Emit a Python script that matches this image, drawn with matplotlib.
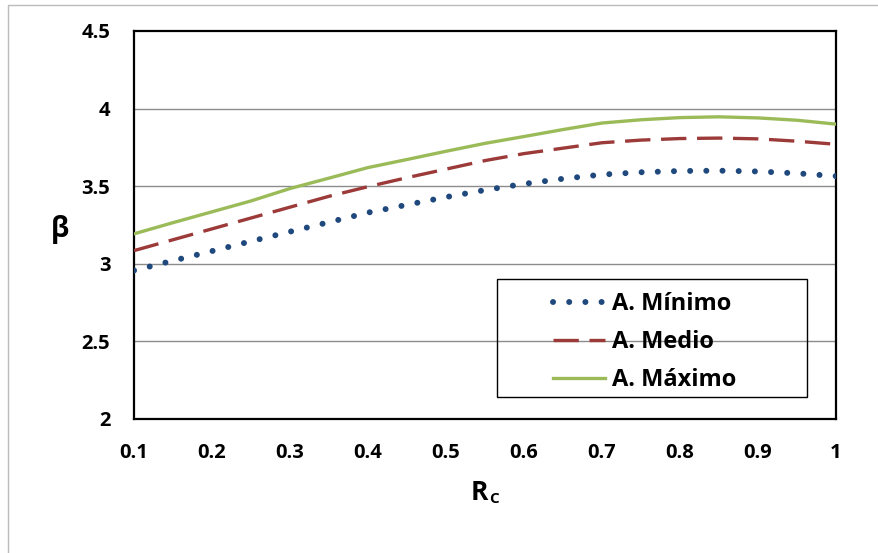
import matplotlib
matplotlib.use("Agg")
import matplotlib.pyplot as plt
from matplotlib.patches import Rectangle

plt.rcParams['font.family'] = ['Open Sans', 'DejaVu Sans']
plt.rcParams['font.weight'] = 'bold'

# Rc values and beta for the three cases
rc = [0.10, 0.15, 0.20, 0.25, 0.30, 0.35, 0.40, 0.45, 0.50, 0.55,
      0.60, 0.65, 0.70, 0.75, 0.80, 0.85, 0.90, 0.95, 1.00]
beta_min = [2.957, 3.020, 3.082, 3.145, 3.207, 3.268, 3.330, 3.380, 3.430, 3.475,
            3.515, 3.548, 3.575, 3.590, 3.598, 3.600, 3.595, 3.583, 3.565]
beta_med = [3.085, 3.155, 3.225, 3.295, 3.365, 3.435, 3.497, 3.555, 3.610, 3.665,
            3.710, 3.745, 3.780, 3.797, 3.807, 3.810, 3.805, 3.790, 3.770]
beta_max = [3.193, 3.265, 3.335, 3.405, 3.485, 3.552, 3.620, 3.672, 3.725, 3.776,
            3.820, 3.865, 3.907, 3.928, 3.942, 3.947, 3.940, 3.925, 3.900]
labels = ["A. Mínimo", "A. Medio", "A. Máximo"]

xticks = [0.1, 0.2, 0.3, 0.4, 0.5, 0.6, 0.7, 0.8, 0.9, 1.0]
xticklabels = ["0.1", "0.2", "0.3", "0.4", "0.5", "0.6", "0.7", "0.8", "0.9", "1"]
yticks = [2, 2.5, 3, 3.5, 4, 4.5]
yticklabels = ["2", "2.5", "3", "3.5", "4", "4.5"]

W, H = 879, 553
fig = plt.figure(figsize=(W / 100, H / 100), dpi=100)
ax = fig.add_axes([134 / W, 1 - 419 / H, (836 - 134) / W, (419 - 31) / H])

# outer chart frame (only left/top edges visible)
fig.patches.append(Rectangle((8 / W, -0.1), 1.2, 1.1 - 5 / H, transform=fig.transFigure,
                             fill=False, edgecolor='#BBBBBB', linewidth=1.0))

ax.plot(rc, beta_min, color='#1F497D', linewidth=4.3, linestyle=(0, (0.01, 2.7)),
        dash_capstyle='round', label=labels[0], zorder=3)
ax.plot(rc, beta_med, color='#9B3A38', linewidth=2.4, linestyle=(0, (7.6, 3.2)),
        dash_capstyle='butt', label=labels[1], zorder=3)
ax.plot(rc, beta_max, color='#9BBB59', linewidth=2.4, label=labels[2], zorder=3)

ax.set_xlim(0.1, 1.0)
ax.set_ylim(2, 4.5)
ax.set_xticks(xticks)
ax.set_xticklabels(xticklabels, fontweight='bold')
ax.set_yticks(yticks)
ax.set_yticklabels(yticklabels, fontweight='bold')
ax.tick_params(axis='both', length=0, labelsize=14.5)
ax.tick_params(axis='y', pad=17)
ax.tick_params(axis='x', pad=17)

for y in [2.5, 3, 3.5, 4]:
    ax.axhline(y, color='#8C8C8C', linewidth=1.0, zorder=1)
for s in ax.spines.values():
    s.set_color('black')
    s.set_linewidth(1.6)

fig.text(60 / W, 1 - 230 / H, 'β', fontsize=20, fontweight='bold', ha='center', va='center')
r = fig.text(471 / W, 1 - 500 / H, 'R', fontsize=19, fontweight='bold', ha='left', va='baseline')
ax.annotate('C', xy=(1, 0), xycoords=r, xytext=(0.2, 0), textcoords='offset points',
            fontsize=11, fontweight='bold', va='bottom')

# legend box drawn separately (Excel-style wide padding on the left)
ax.add_patch(Rectangle((0.517, 0.057), 0.442, 0.304, transform=ax.transAxes,
                       fill=False, edgecolor='black', linewidth=1.0, zorder=4))
leg = ax.legend(loc='center left', bbox_to_anchor=((553 - 134) / 702, (419 - 342) / 388),
                frameon=False, handlelength=2.2,
                handletextpad=0.3, labelspacing=0.6, borderpad=0, borderaxespad=0,
                prop={'weight': 'bold', 'size': 17})

fig.savefig('out.png', dpi=100)
